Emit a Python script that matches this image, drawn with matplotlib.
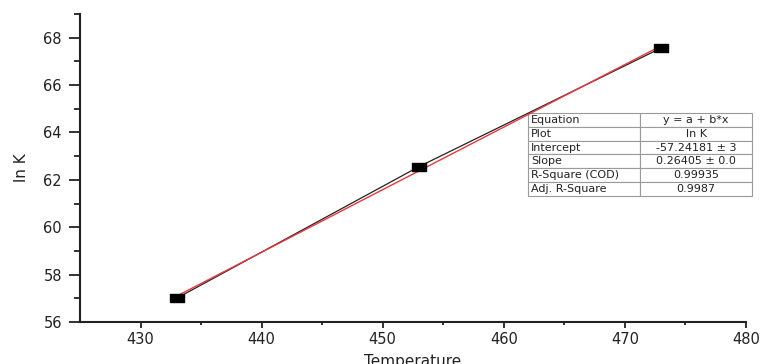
import matplotlib
matplotlib.use("Agg")
import matplotlib.pyplot as plt
import numpy as np

plt.rcParams['font.family'] = ['DejaVu Sans']

temperature = [433, 453, 473]
ln_k = [57.006, 62.56, 67.568]

table_labels = ["Equation", "Plot", "Intercept", "Slope", "R-Square (COD)", "Adj. R-Square"]
table_values = ["y = a + b*x", "ln K", "-57.24181 ± 3", "0.26405 ± 0.0", "0.99935", "0.9987"]

fig = plt.figure(figsize=(7.63, 3.64), dpi=100)
ax = fig.add_axes([80/763, 1-322/364, (746-80)/763, (322-14)/364])

x = np.array(temperature, dtype=float)
y = np.array(ln_k)
b, a = np.polyfit(x, y, 1)
xf = np.array([x.min(), x.max()])

rect = [(-1, -0.6), (1, -0.6), (1, 0.6), (-1, 0.6), (-1, -0.6)]
ax.plot(x, y, color='#222222', lw=0.9, zorder=2)
ax.plot(xf, a + b*xf, color='#e8383d', lw=1.0, zorder=3)
ax.plot(x, y, linestyle='none', marker=rect, markersize=10, color='black', zorder=4)

ax.set_xlim(425, 480)
ax.set_ylim(56, 69)
ax.set_xticks([430, 440, 450, 460, 470, 480])
ax.set_xticks(np.arange(435, 480, 10), minor=True)
ax.set_yticks(np.arange(56, 69, 2))
ax.set_yticks(np.arange(57, 70, 2), minor=True)

for s in ['top', 'right']:
    ax.spines[s].set_visible(False)
for s in ['left', 'bottom']:
    ax.spines[s].set_linewidth(1.5)
    ax.spines[s].set_color('#222222')

ax.tick_params(axis='y', which='major', direction='out', length=8, width=1.3, labelsize=10.5, pad=5, color='#222222', labelcolor='#222222')
ax.tick_params(axis='y', which='minor', direction='out', length=4, width=1.3, color='#222222')
ax.tick_params(axis='x', which='major', direction='out', length=4, width=1.3, labelsize=10.5, pad=3, color='#222222', labelcolor='#222222')
ax.tick_params(axis='x', which='minor', direction='out', length=2, width=1.3, color='#222222')

ax.set_xlabel("Temperature", fontsize=11, labelpad=5, color='#222222')
ax.set_ylabel("ln K", fontsize=11, labelpad=10, color='#222222')

tb = ax.table(cellText=[[l, v] for l, v in zip(table_labels, table_values)],
              bbox=[(528-80)/666, (322-196)/308, (752-528)/666, (196-113)/308],
              cellLoc='left', colWidths=[0.5, 0.5])
tb.auto_set_font_size(False)
for (r, c), cell in tb.get_celld().items():
    cell.set_edgecolor('#9a9a9a')
    cell.set_linewidth(0.8)
    cell.get_text().set_fontsize(8)
    cell.get_text().set_color('#222222')
    cell.PAD = 0.03
    if c == 1:
        cell.get_text().set_horizontalalignment('center')
        cell._loc = 'center'
tb.set_clip_on(False)

fig.savefig("out.png", dpi=100)
